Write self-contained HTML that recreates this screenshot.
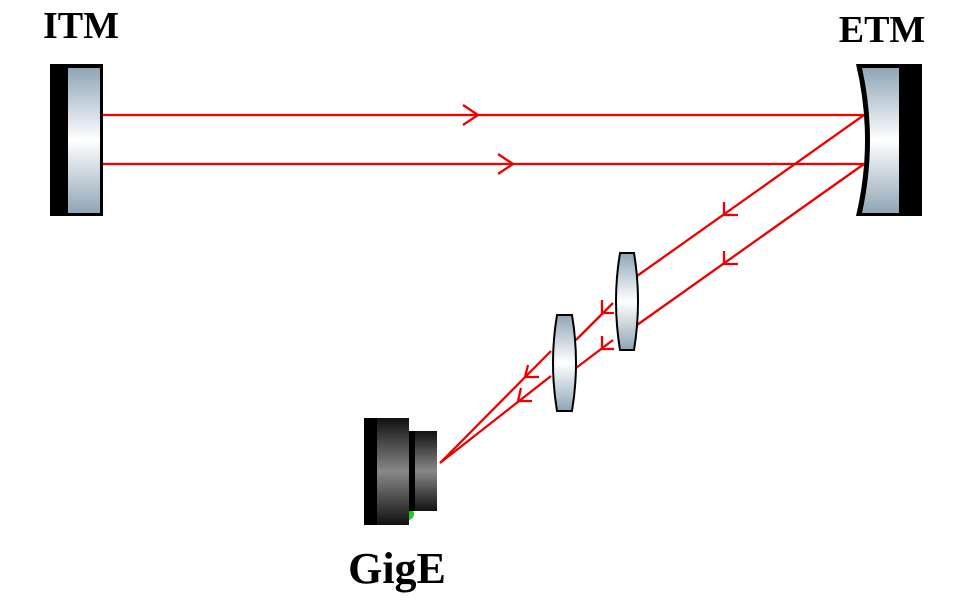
<!DOCTYPE html>
<html><head><meta charset="utf-8"><style>
html,body{margin:0;padding:0;background:#fff;}
svg{display:block}
text{font-family:"Liberation Serif",serif;font-weight:bold;fill:#000}
</style></head><body>
<svg width="953" height="601" viewBox="0 0 953 601" xmlns="http://www.w3.org/2000/svg">
<defs>
<linearGradient id="g" x1="0" y1="0" x2="0" y2="1">
<stop offset="0" stop-color="#8fa5b6"/><stop offset="0.5" stop-color="#ffffff"/><stop offset="1" stop-color="#8fa5b6"/>
</linearGradient>
<linearGradient id="c" x1="0" y1="0" x2="0" y2="1">
<stop offset="0" stop-color="#111"/><stop offset="0.5" stop-color="#888"/><stop offset="1" stop-color="#111"/>
</linearGradient>
</defs>
<text x="81" y="38" font-size="38" text-anchor="middle">ITM</text>
<text x="882" y="42" font-size="38" text-anchor="middle">ETM</text>
<text x="397" y="583" font-size="44" text-anchor="middle">GigE</text>
<!-- ITM -->
<rect x="50" y="64" width="53" height="152" fill="#000"/>
<rect x="68" y="68" width="32" height="145" fill="url(#g)"/>
<!-- ETM -->
<rect x="896" y="64" width="26" height="152" fill="#000"/>
<path d="M856,64 L900,64 L900,216 L856,216 Q874,140 856,64 Z" fill="#000"/>
<path d="M862,68 L899,68 L899,213 L862,213 Q878,140 862,68 Z" fill="url(#g)"/>
<!-- beams -->
<g stroke="#e00" stroke-width="2.3" fill="none">
<line x1="103" y1="115" x2="864" y2="115"/>
<line x1="103" y1="164" x2="864" y2="164"/>
<polyline points="463,105 478,115 463,125"/>
<polyline points="498,154 513,164 498,174"/>
<line x1="864" y1="115" x2="637" y2="276"/>
<line x1="864" y1="164" x2="637" y2="325"/>
<line x1="613" y1="303" x2="576" y2="340"/>
<line x1="613" y1="340" x2="576" y2="368"/>
<line x1="551" y1="351" x2="440" y2="463"/>
<line x1="551" y1="376" x2="440" y2="463"/>
<polyline points="724,202 724,215 738,215"/>
<polyline points="724,251 724,264 738,264"/>
<polyline points="602,300 602,313 614,313"/>
<polyline points="602,336 602,349 614,349"/>
<polyline points="528,365 525,377 539,377"/>
<polyline points="521,388 518,401 532,401"/>
</g>
<!-- lenses -->
<path d="M620,253 L634,253 Q642,301 634,350 L620,350 Q612,301 620,253 Z" fill="url(#g)" stroke="#000" stroke-width="2"/>
<path d="M557,315 L572,315 Q580,363 572,411 L557,411 Q549,363 557,315 Z" fill="url(#g)" stroke="#000" stroke-width="2"/>
<!-- camera -->
<circle cx="408" cy="514" r="6" fill="#2c2"/>
<rect x="364" y="418" width="45" height="107" fill="url(#c)"/>
<rect x="364" y="418" width="13" height="107" fill="#000"/>
<rect x="409" y="431" width="28" height="80" fill="url(#c)"/>
<rect x="409" y="431" width="6" height="80" fill="#000"/>
</svg>
</body></html>
